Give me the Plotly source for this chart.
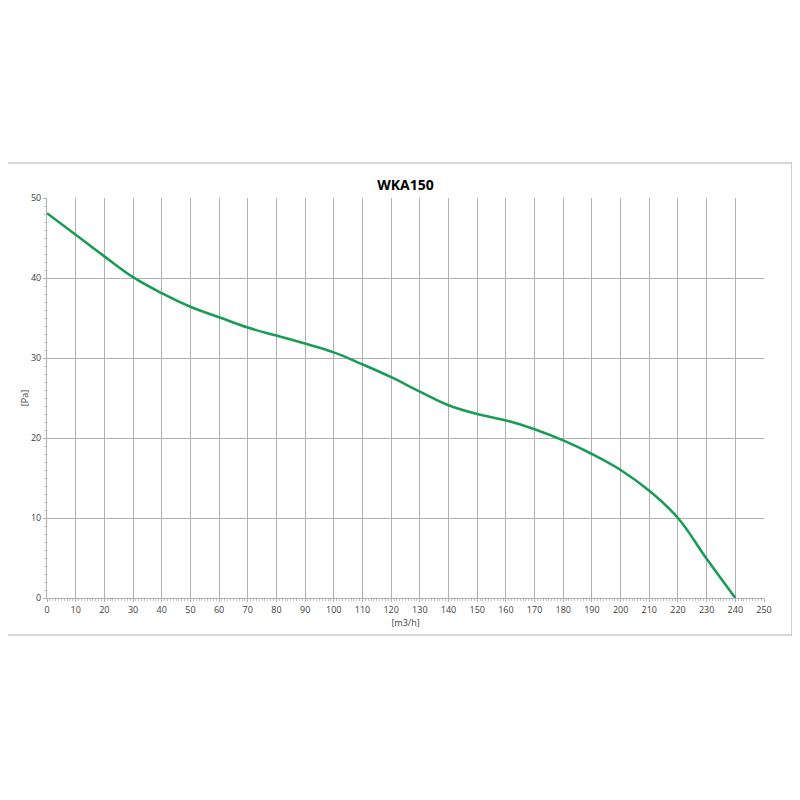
import plotly.graph_objects as go

flow = [0, 10, 20, 30, 40, 50, 60, 70, 80, 90, 100, 110, 120, 130, 140, 150, 160, 170, 180, 190, 200, 210, 220, 230, 240]
pressure = [48.1, 45.4, 42.7, 40.1, 38.1, 36.4, 35.1, 33.8, 32.8, 31.8, 30.7, 29.2, 27.6, 25.8, 24.1, 23.0, 22.2, 21.1, 19.7, 18.0, 16.0, 13.4, 10.0, 4.9, 0.0]

title = "WKA150"
x_title = "[m3/h]"
y_title = "[Pa]"

font = "Open Sans, Liberation Sans, sans-serif"
grid = "#b0b0b0"

fig = go.Figure()
fig.add_trace(go.Scatter(
    x=flow, y=pressure, mode="lines", line=dict(color="#1a9c55", width=2.6, shape="spline", smoothing=1.1),
    hoverinfo="x+y", showlegend=False,
))

fig.update_layout(
    width=800, height=800,
    paper_bgcolor="white", plot_bgcolor="white",
    margin=dict(l=39, r=44, t=190, b=210),
    font=dict(family=font, size=9, color="#404040"),
    title=dict(text="<b>" + title + "</b>", xref="paper", x=0.5, xanchor="center",
               y=1 - 177 / 800, yanchor="middle",
               font=dict(family=font, size=14, color="#000000")),
    xaxis=dict(range=[0, 250], dtick=10, tick0=0, showgrid=True, gridcolor=grid, gridwidth=1,
               showline=True, linecolor=grid, linewidth=1, zeroline=False, mirror=False,
               ticks="outside", ticklen=3, tickcolor=grid,
               minor=dict(dtick=1, ticks="outside", ticklen=2, tickcolor="#c0c0c0", showgrid=False),
               title=dict(text=x_title, font=dict(family=font, size=9, color="#404040"), standoff=0),
               tickfont=dict(size=9, color="#404040")),
    yaxis=dict(range=[0, 50], dtick=10, tick0=0, showgrid=True, gridcolor=grid, gridwidth=1,
               showline=True, linecolor=grid, linewidth=1, zeroline=False,
               ticks="outside", ticklen=3, tickcolor=grid,
               minor=dict(dtick=1, ticks="outside", ticklen=2, tickcolor="#c0c0c0", showgrid=False),
               title=dict(text=y_title, font=dict(family=font, size=9, color="#404040"), standoff=0),
               tickfont=dict(size=9, color="#404040")),
)

fig.add_shape(type="rect", xref="paper", yref="paper",
              x0=(7 - 47) / 717, x1=(792 - 47) / 717, y0=(598 - 635) / 400, y1=(598 - 163) / 400,
              line=dict(color="#b0b0b0", width=1.2), fillcolor="rgba(0,0,0,0)", layer="below")

fig.write_html("out.html")
